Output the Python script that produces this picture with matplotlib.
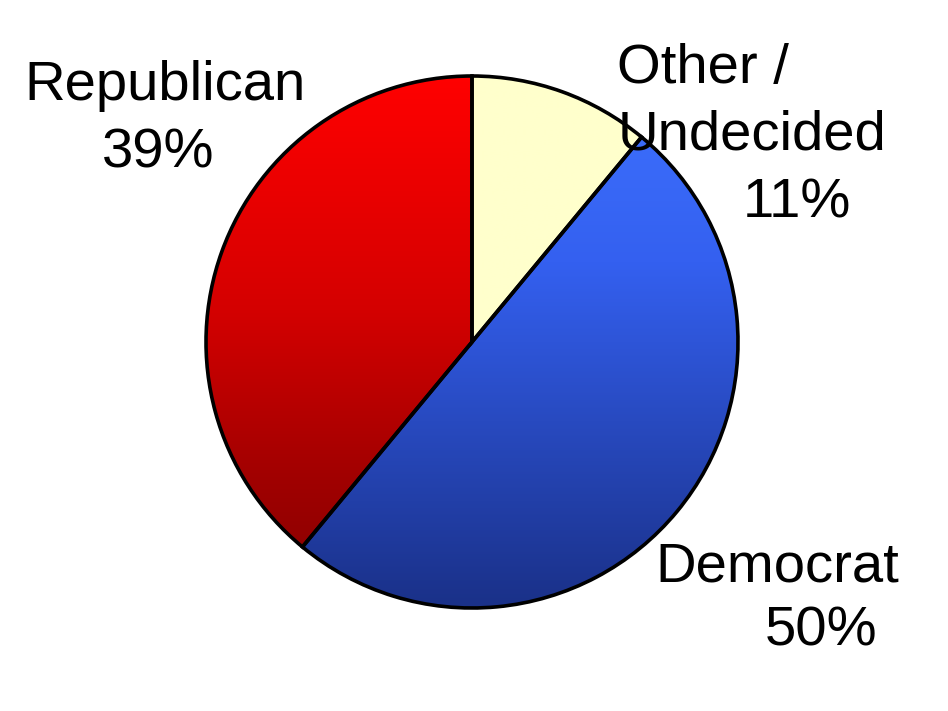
import numpy as np
import matplotlib
matplotlib.use("Agg")
import matplotlib.pyplot as plt
from matplotlib.colors import LinearSegmentedColormap

# poll shares, clockwise from 12 o'clock
parties = ["Other / Undecided", "Democrat", "Republican"]
shares = [11, 50, 39]

# label lines (text comes from parties/shares below)
label_lines = {
    "Other / Undecided": ["Other /", "Undecided"],
    "Democrat": ["Democrat"],
    "Republican": ["Republican"],
}

# gradient fills, top -> bottom of the pie: (position, colour)
fills = {
    "Other / Undecided": [(0, "#ffffcc"), (1, "#ffffcc")],
    "Democrat": [(0, "#3e72ff"), (0.35, "#3460f0"), (0.95, "#1c3490"), (1, "#1a3188")],
    "Republican": [(0, "#ff0000"), (0.44, "#d40000"), (0.76, "#a00000"), (1, "#840000")],
}

W, H = 948, 711
fig = plt.figure(figsize=(W / 100, H / 100), dpi=100)
ax = fig.add_axes([0, 0, 1, 1])

cx, cy, r = 472, H - 342, 266

wedges, _ = ax.pie(shares, startangle=90, counterclock=False,
                   center=(cx, cy), radius=r,
                   wedgeprops=dict(edgecolor="black", linewidth=2.6))

# grad goes 0 at top to 1 at bottom
grad = np.linspace(0, 1, 256).reshape(-1, 1)
for w, name in zip(wedges, parties):
    cmap = LinearSegmentedColormap.from_list(name, fills[name])
    im = ax.imshow(grad, cmap=cmap, origin="upper", aspect="auto",
                   extent=[cx - r, cx + r, cy - r, cy + r], zorder=0.5,
                   interpolation="bilinear")
    im.set_clip_path(w)
    w.set_facecolor("none")
    w.set_zorder(2)

# text placement in pixels from top (x centre, baseline)
pos = {
    "Other / Undecided": [(703, 83), (752, 150), (797, 217)],
    "Democrat": [(777, 582), (821, 645)],
    "Republican": [(165, 100), (158, 167)],
}

for name, val in zip(parties, shares):
    lines = label_lines[name] + [f"{val}%"]
    for txt, (x, y) in zip(lines, pos[name]):
        ax.text(x, H - y, txt, ha="center", va="baseline",
                fontsize=40.5, family="Liberation Sans", color="black",
                zorder=3)

ax.set_xlim(0, W)
ax.set_ylim(0, H)
ax.set_aspect("auto")
ax.axis("off")

fig.savefig("out.png", dpi=100, facecolor="white")
